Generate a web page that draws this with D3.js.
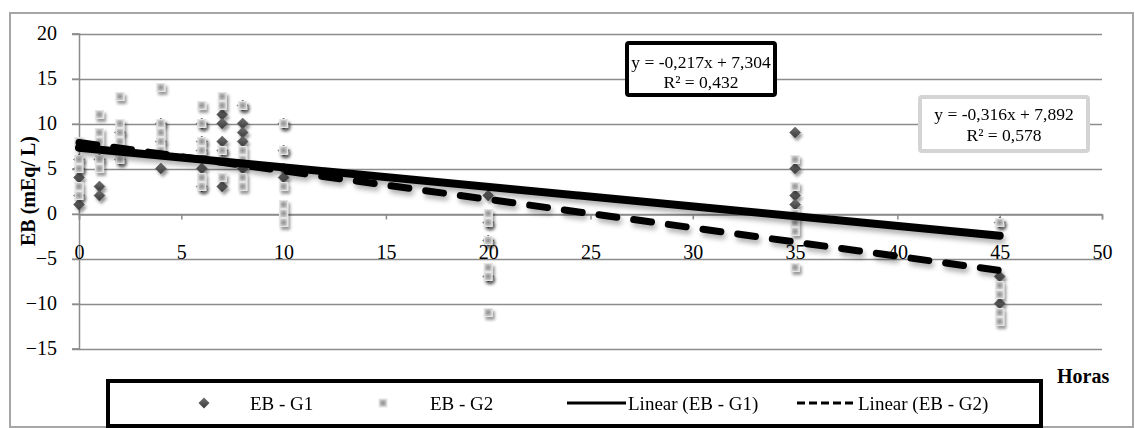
<!DOCTYPE html>
<html>
<head>
<meta charset="utf-8">
<script src="https://cdn.jsdelivr.net/npm/d3@7"></script>
<style>
  body { margin: 0; background: #fff; }
  svg text { font-family: "Liberation Serif", "Times New Roman", serif; fill: #000; }
</style>
</head>
<body>
<div id="container"></div>
<script>
const width = 1135;
const height = 428;

// ---- data ----
const xTicks = [0, 5, 10, 15, 20, 25, 30, 35, 40, 45, 50];
const yTicks = [-15, -10, -5, 0, 5, 10, 15, 20];

const g1Hours = [0, 0, 0, 0, 0, 1, 1, 1, 2, 2, 2, 4, 4, 4, 6, 6, 6, 6, 6, 7, 7, 7, 7, 7, 8, 8, 8, 8, 8, 10, 10, 10, 10, 20, 20, 20, 20, 35, 35, 35, 35, 45, 45, 45];
const g1EB    = [6, 5, 4, 2, 1, 6, 3, 2, 9, 7, 6, 10, 8, 5, 10, 8, 7, 5, 3, 11, 10, 8, 7, 3, 12, 10, 9, 8, 5, 10, 7, 5, 4, 2, -1, -3, -7, 9, 5, 2, 1, -1, -7, -10];

const g2Hours = [0, 0, 0, 0, 0, 1, 1, 1, 1, 1, 2, 2, 2, 2, 2, 4, 4, 4, 4, 4, 6, 6, 6, 6, 6, 6, 7, 7, 7, 7, 8, 8, 8, 8, 8, 10, 10, 10, 10, 10, 10, 20, 20, 20, 20, 20, 20, 35, 35, 35, 35, 35, 35, 45, 45, 45, 45, 45];
const g2EB    = [8, 6, 5, 3, 2, 11, 9, 8, 6, 5, 13, 10, 9, 8, 6, 14, 10, 9, 8, 7, 12, 10, 8, 7, 4, 3, 13, 12, 7, 4, 12, 7, 6, 4, 3, 10, 7, 3, 1, 0, -1, 0, -1, -3, -6, -7, -11, 6, 3, 0, -1, -2, -6, -1, -8, -9, -11, -12];

// Excel linear trendlines (slope, intercept) over the observed hours
const trendNames = ["Linear (EB - G1)", "Linear (EB - G2)"];
const trendSlopes = [-0.217, -0.316];
const trendIntercepts = [7.304, 7.892];
const trendRange = [0, 45];
const trendLabels = [
  ["y = -0,217x + 7,304", "R\u00b2 = 0,432"],
  ["y = -0,316x + 7,892", "R\u00b2 = 0,578"]
];
const seriesNames = ["EB - G1", "EB - G2"];

// ---- svg ----
const svg = d3.select("#container").append("svg")
  .attr("width", width)
  .attr("height", height);

const defs = svg.append("defs");
const shadow = defs.append("filter").attr("id", "shadow")
  .attr("x", "-50%").attr("y", "-50%").attr("width", "200%").attr("height", "200%");
shadow.append("feDropShadow")
  .attr("dx", 2).attr("dy", 3).attr("stdDeviation", 1.6)
  .attr("flood-color", "#000").attr("flood-opacity", 0.4);

const lineShadow = defs.append("filter").attr("id", "lineShadow")
  .attr("x", "-5%").attr("y", "-50%").attr("width", "110%").attr("height", "200%");
lineShadow.append("feDropShadow")
  .attr("dx", 2).attr("dy", 4).attr("stdDeviation", 2.5)
  .attr("flood-color", "#000").attr("flood-opacity", 0.3);

const diaGrad = defs.append("linearGradient").attr("id", "diaGrad")
  .attr("x1", 0).attr("y1", 0).attr("x2", 0).attr("y2", 1);
diaGrad.append("stop").attr("offset", "0%").attr("stop-color", "#707070");
diaGrad.append("stop").attr("offset", "100%").attr("stop-color", "#3a3a3a");

const sqGrad = defs.append("radialGradient").attr("id", "sqGrad");
sqGrad.append("stop").attr("offset", "0%").attr("stop-color", "#8f8f8f");
sqGrad.append("stop").attr("offset", "60%").attr("stop-color", "#b4b4b4");
sqGrad.append("stop").attr("offset", "100%").attr("stop-color", "#d2d2d2");

// outer chart border
svg.append("rect")
  .attr("x", 10).attr("y", 13)
  .attr("width", 1123).attr("height", 414)
  .attr("fill", "none")
  .attr("stroke", "#a6a6a6")
  .attr("stroke-width", 2);

// ---- scales ----
const x = d3.scaleLinear().domain([0, 50]).range([79, 1102]);
const y = d3.scaleLinear().domain([-15, 20]).range([348.5, 33.5]);

// gridlines
svg.append("g")
  .selectAll("line")
  .data(yTicks)
  .join("line")
  .attr("x1", x(0) - 7)
  .attr("x2", x(50))
  .attr("y1", d => Math.round(y(d)) + 0.5)
  .attr("y2", d => Math.round(y(d)) + 0.5)
  .attr("stroke", "#8c8c8c")
  .attr("stroke-width", 1.5);

// y axis
const yAxis = svg.append("g")
  .attr("transform", "translate(" + x(0) + ",0)")
  .call(d3.axisLeft(y).tickValues(yTicks).tickSize(7).tickPadding(15));
yAxis.select(".domain").attr("stroke", "#8c8c8c").attr("stroke-width", 1.5);
yAxis.selectAll(".tick line").attr("stroke", "#8c8c8c");
yAxis.selectAll(".tick text")
  .style("font-family", "Liberation Serif")
  .style("font-size", "20px")
  .attr("fill", "#000");

// x axis (crosses at 0)
const xAxis = svg.append("g")
  .attr("transform", "translate(0," + (Math.round(y(0)) + 0.5) + ")")
  .call(d3.axisBottom(x).tickValues(xTicks).tickSize(5).tickPadding(25));
xAxis.select(".domain").attr("stroke", "#8c8c8c").attr("stroke-width", 1.5);
xAxis.selectAll(".tick line").attr("stroke", "#8c8c8c").attr("stroke-width", 1.5);
xAxis.selectAll(".tick text")
  .style("font-family", "Liberation Serif")
  .style("font-size", "20px")
  .attr("fill", "#000");

// axis titles
svg.append("text")
  .attr("transform", "translate(35,191) rotate(-90)")
  .attr("text-anchor", "middle")
  .style("font-size", "20px")
  .style("font-weight", "bold")
  .text("EB (mEq/ L)");

svg.append("text")
  .attr("x", 1057).attr("y", 383)
  .style("font-size", "20px")
  .style("font-weight", "bold")
  .text("Horas");

// ---- markers ----
const diamondPath = "M0,-5.5L5.5,0L0,5.5L-5.5,0Z";
const squarePath = "M-4,-4H4V4H-4Z";

const g1 = g1Hours.map((h, i) => ({ hour: h, eb: g1EB[i] }));
const g2 = g2Hours.map((h, i) => ({ hour: h, eb: g2EB[i] }));

svg.append("g")
  .attr("filter", "url(#shadow)")
  .selectAll("path")
  .data(g1)
  .join("path")
  .attr("d", diamondPath)
  .attr("transform", d => "translate(" + x(d.hour) + "," + y(d.eb) + ")")
  .attr("fill", "url(#diaGrad)")
  .attr("stroke", "#4a4a4a")
  .attr("stroke-width", 0.5);

svg.append("g")
  .attr("filter", "url(#shadow)")
  .selectAll("path")
  .data(g2)
  .join("path")
  .attr("d", squarePath)
  .attr("transform", d => "translate(" + x(d.hour) + "," + y(d.eb) + ")")
  .attr("fill", "url(#sqGrad)")
  .attr("stroke", "#e4e4e4")
  .attr("stroke-width", 1.2);

// ---- trendlines ----
const trends = trendNames.map((name, i) => ({
  name: name,
  points: trendRange.map(h => ({ hour: h, eb: trendSlopes[i] * h + trendIntercepts[i] }))
}));

const line = d3.line()
  .x(d => x(d.hour))
  .y(d => y(d.eb));

svg.append("g")
  .attr("filter", "url(#lineShadow)")
  .selectAll("path")
  .data(trends)
  .join("path")
  .attr("d", d => line(d.points))
  .attr("fill", "none")
  .attr("stroke", "#000")
  .attr("stroke-width", (d, i) => i === 0 ? 8 : 7)
  .attr("stroke-linecap", "round")
  .attr("stroke-dasharray", (d, i) => i === 0 ? null : "18 17");

// ---- trendline labels ----
const labelBoxes = [
  { x: 627, y: 43, w: 148, h: 52, stroke: "#000", cx: 701, ly: [62, 82] },
  { x: 920, y: 97, w: 168, h: 54, stroke: "#d4d4d4", cx: 1004, ly: [114, 135] }
];

labelBoxes.forEach((b, i) => {
  svg.append("rect")
    .attr("x", b.x).attr("y", b.y)
    .attr("width", b.w).attr("height", b.h)
    .attr("rx", 2)
    .attr("fill", "#fff")
    .attr("stroke", b.stroke)
    .attr("stroke-width", 4);
  trendLabels[i].forEach((t, j) => {
    svg.append("text")
      .attr("x", b.cx).attr("y", b.ly[j])
      .attr("text-anchor", "middle")
      .attr("dy", "0.35em")
      .style("font-size", "17.5px")
      .text(t);
  });
});

// ---- legend ----
const legend = svg.append("g");
legend.append("rect")
  .attr("x", 108).attr("y", 381)
  .attr("width", 933).attr("height", 45)
  .attr("fill", "#fff")
  .attr("stroke", "#000")
  .attr("stroke-width", 4);

const ly = 403;
legend.append("path")
  .attr("d", diamondPath)
  .attr("transform", "translate(204," + ly + ")")
  .attr("fill", "url(#diaGrad)");
legend.append("text").attr("x", 250).attr("y", ly).attr("dy", "0.35em")
  .style("font-size", "19px").text(seriesNames[0]);

legend.append("path")
  .attr("d", squarePath)
  .attr("transform", "translate(383," + ly + ")")
  .attr("fill", "url(#sqGrad)")
  .attr("stroke", "#e4e4e4");
legend.append("text").attr("x", 430).attr("y", ly).attr("dy", "0.35em")
  .style("font-size", "19px").text(seriesNames[1]);

legend.append("line")
  .attr("x1", 567).attr("x2", 626).attr("y1", ly).attr("y2", ly)
  .attr("stroke", "#000").attr("stroke-width", 3);
legend.append("text").attr("x", 628).attr("y", ly).attr("dy", "0.35em")
  .style("font-size", "19px").text(trendNames[0]);

legend.append("line")
  .attr("x1", 797).attr("x2", 856).attr("y1", ly).attr("y2", ly)
  .attr("stroke", "#000").attr("stroke-width", 3)
  .attr("stroke-dasharray", "8 4");
legend.append("text").attr("x", 858).attr("y", ly).attr("dy", "0.35em")
  .style("font-size", "19px").text(trendNames[1]);
</script>
</body>
</html>
